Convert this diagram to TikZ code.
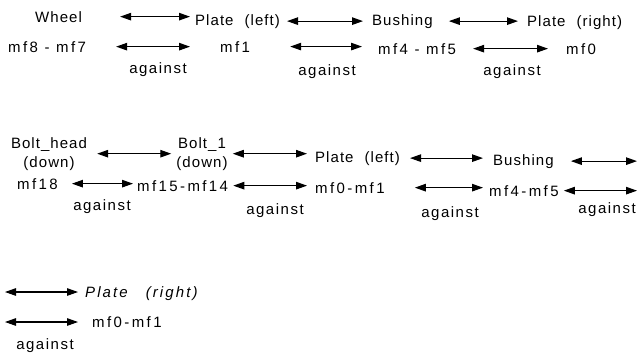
\documentclass[tikz,border=0pt]{standalone}
\usepackage{fontspec}
\setmainfont{Liberation Sans}[LetterSpace=7]
\newfontfamily\mffont{Liberation Sans}[LetterSpace=16]
\newfontfamily\agfont{Liberation Sans}[LetterSpace=10]
\newfontfamily\widefont{Liberation Sans}[LetterSpace=14]
\usetikzlibrary{arrows.meta}
\begin{document}
\begin{tikzpicture}[x=1pt,y=-1pt,
  lbl/.style={inner sep=0pt, anchor=base west, font=\fontsize{15}{19}\selectfont},
  mf/.style={lbl, font=\fontsize{15}{19}\selectfont\mffont},
  ag/.style={lbl, anchor=base, font=\fontsize{15}{19}\selectfont\agfont},
  part/.style={lbl, anchor=north, align=center},
  link/.style={line width=1.1pt,
    {Triangle[length=11pt,width=7.5pt]}-{Triangle[length=11pt,width=7.5pt]}}
]
\useasboundingbox (0,0) rectangle (639,354);

% ---- first chain: wheel, plates and bushing ----
\node[lbl] (wheel)  at (35,22)  {Wheel};
\node[lbl] (plateA) at (195,25) {Plate\hspace{11pt}(left)};
\node[lbl] (bushA)  at (372,25) {Bushing};
\node[lbl] (plateB) at (527,26) {Plate\hspace{11pt}(right)};

\node[mf] (mfA) at (8,52)   {mf8 - mf7};
\node[mf] (mfB) at (220,52) {mf1};
\node[mf] (mfC) at (378,54) {mf4 - mf5};
\node[mf] (mfD) at (566,54) {mf0};

\node[ag] (agA) at (158,73) {against};
\node[ag] (agB) at (327,75) {against};
\node[ag] (agC) at (512,75) {against};

\draw[link, shorten <=38pt, shorten >=5pt] (wheel.east)  -- (wheel.east -| plateA.west);
\draw[link, shorten <=7pt,  shorten >=9pt] (plateA.east) -- (plateA.east -| bushA.west);
\draw[link, shorten <=16pt, shorten >=9pt] (bushA.east)  -- (bushA.east -| plateB.west);

\draw[link, shorten <=30pt, shorten >=30pt] (mfA.east) -- (mfA.east -| mfB.west);
\draw[link, shorten <=40pt, shorten >=16pt] (mfB.east) -- (mfB.east -| mfC.west);
\draw[link, shorten <=17pt, shorten >=18pt] (mfC.east) -- (mfC.east -| mfD.west);

% ---- second chain: bolt through plate and bushing ----
\node[part] (boltH) at (49,137)  {Bolt\_head\\(down)};
\node[part] (boltO) at (202,137) {Bolt\_1\\(down)};
\node[lbl] (plateC) at (315,162) {Plate\hspace{11pt}(left)};
\node[lbl] (bushC)  at (493,165) {Bushing};
\coordinate (endC) at (637,161);

\node[mf] (mfE) at (17,189)  {mf18};
\node[mf] (mfF) at (137,191) {mf15-mf14};
\node[mf] (mfG) at (315,193) {mf0-mf1};
\node[mf] (mfH) at (489,196) {mf4-mf5};
\coordinate (endH) at (637,192);

\node[ag] (agE) at (102,210) {against};
\node[ag] (agF) at (275,214) {against};
\node[ag] (agG) at (450,217) {against};
\node[ag] (agH) at (607,213) {against};

\draw[link, shorten <=10pt, shorten >=5pt]  (boltH.east)  -- (boltH.east -| boltO.west);
\draw[link, shorten <=5pt,  shorten >=8pt]  (boltO.east)  -- (boltO.east -| plateC.west);
\draw[link, shorten <=10pt, shorten >=10pt] (plateC.east) -- (plateC.east -| bushC.west);
\draw[link, shorten <=17pt] (bushC.east) -- (bushC.east -| endC);

\draw[link, shorten <=14pt, shorten >=4pt] (mfE.east) -- (mfE.east -| mfF.west);
\draw[link, shorten <=5pt,  shorten >=8pt] (mfF.east) -- (mfF.east -| mfG.west);
\draw[link, shorten <=30pt, shorten >=6pt] (mfG.east) -- (mfG.east -| mfH.west);
\draw[link, shorten <=5pt] (mfH.east) -- (mfH.east -| endH);

% ---- continuation: right plate ----
\coordinate (startI) at (5,292);
\node[lbl, font=\fontsize{15}{19}\selectfont\widefont\itshape] (plateI) at (85,297) {Plate\hspace{18pt}(right)};
\coordinate (startJ) at (5,322);
\node[mf] (mfJ) at (92,327) {mf0-mf1};
\node[ag] (agJ) at (45,349) {against};

\draw[link, shorten >=7pt]  (startI) -- (startI -| plateI.west);
\draw[link, shorten >=14pt] (startJ) -- (startJ -| mfJ.west);
\end{tikzpicture}
\end{document}
